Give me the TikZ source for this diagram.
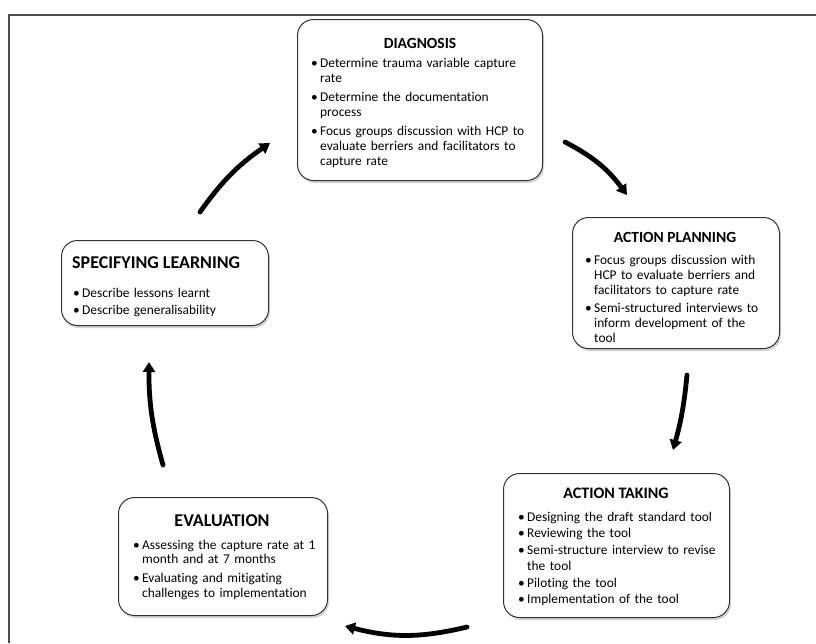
\documentclass[tikz,border=0pt]{standalone}
\usepackage{fontspec}
\setmainfont{Carlito}[Ligatures=CommonOff]
\usetikzlibrary{arrows.meta,shadows}
\tikzset{
  box/.style={draw=black!80, line width=1pt, rounded corners=16pt, fill=white, anchor=north west, inner sep=0pt,
    drop shadow={shadow xshift=1.5pt, shadow yshift=-2.5pt, opacity=0.35, fill=black!50}},
  ttl/.style={font=\bfseries\fontsize{15.5}{18}\selectfont, anchor=base, inner sep=0pt},
  body/.style={anchor=base west, inner sep=0pt, text width=260pt, align=left},
  cyc/.style={line width=4.8pt, line cap=round, -{Triangle[length=10pt,width=12pt]}},
  frameline/.style={draw=black!70, line width=1.5pt}
}
\newcommand\bu{\makebox[9pt][l]{\textbullet}}
\newcommand\ind{\hspace*{9pt}}
\begin{document}
\begin{tikzpicture}[x=1pt,y=-1pt]
\useasboundingbox (0,0) rectangle (816,643);
\draw[frameline] (9,643) -- (9,15) -- (816,15);

% boxes
\node[box, minimum width=245pt, minimum height=161pt] (diag) at (297,19) {};
\node[box, minimum width=207pt, minimum height=131pt] (plan) at (572,217) {};
\node[box, minimum width=226pt, minimum height=144pt] (take) at (503,473) {};
\node[box, minimum width=209pt, minimum height=118pt] (eval) at (118,497) {};
\node[box, minimum width=207pt, minimum height=85pt] (spec) at (61,240) {};

% titles
\node[ttl] (diagT) at (420,48) {DIAGNOSIS};
\node[ttl] (planT) at (675,242.5) {ACTION PLANNING};
\node[ttl, font=\bfseries\fontsize{16}{18}\selectfont] (takeT) at (616,498.5) {ACTION TAKING};
\node[ttl, font=\bfseries\fontsize{18}{20}\selectfont] (evalT) at (222,526) {EVALUATION};
\node[ttl, anchor=base west, font=\bfseries\fontsize{18}{20}\selectfont] (specT) at (72,268) {SPECIFYING LEARNING};

% bodies
\node[body, font=\fontsize{13.4}{15}\selectfont] (diagB) at (311,67) {%
\bu Determine trauma variable capture\\
\ind rate\\[4pt]
\bu Determine the documentation\\
\ind process\\[4pt]
\bu Focus groups discussion with HCP to\\
\ind evaluate berriers and facilitators to\\
\ind capture rate};

\node[body, font=\fontsize{13.4}{15}\selectfont] (planB) at (585,264) {%
\bu Focus groups discussion with\\
\ind HCP to evaluate berriers and\\
\ind facilitators to capture rate\\[3pt]
\bu Semi-structured interviews to\\
\ind inform development of the\\
\ind tool};

\node[body, font=\fontsize{13.4}{16.5}\selectfont] (takeB) at (518,521) {%
\bu Designing the draft standard tool\\
\bu Reviewing the tool\\
\bu Semi-structure interview to revise\\
\ind the tool\\
\bu Piloting the tool\\
\bu Implementation of the tool};

\node[body, font=\fontsize{13.4}{14.5}\selectfont] (evalB) at (133,549) {%
\bu Assessing the capture rate at 1\\
\ind month and at 7 months\\[4.5pt]
\bu Evaluating and mitigating\\
\ind challenges to implementation};

\node[body, font=\fontsize{13.4}{17}\selectfont] (specB) at (73,297) {%
\bu Describe lessons learnt\\
\bu Describe generalisability};

% cycle arrows
\coordinate (a1s) at (200,212); \coordinate (a1e) at (270,143);
\coordinate (a2s) at (565,142); \coordinate (a2e) at (627,195);
\coordinate (a3s) at (687,375); \coordinate (a3e) at (673,450);
\coordinate (a4s) at (467,627); \coordinate (a4e) at (345,626);
\coordinate (a5s) at (163,465); \coordinate (a5e) at (149,362);
\draw[cyc] (a1s) to[bend left=10] (a1e);
\draw[cyc] (a2s) to[bend left=13] (a2e);
\draw[cyc] (a3s) to[bend left=5] (a3e);
\draw[cyc] (a4s) to[bend left=14] (a4e);
\draw[cyc] (a5s) to[bend left=8] (a5e);
\end{tikzpicture}
\end{document}
